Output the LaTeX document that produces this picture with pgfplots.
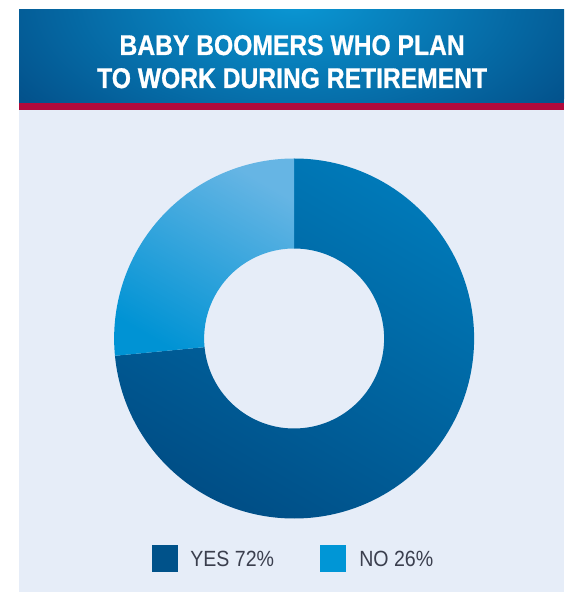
\documentclass[border=0pt]{standalone}
\usepackage{pgfplots}
\pgfplotsset{compat=1.18}
\usepackage{pgfplotstable}
\usepackage{fontspec}
\setmainfont{Liberation Sans}
\newfontfamily\condfont{Liberation Sans}[FakeStretch=0.89]
\newfontfamily\titlefont{Liberation Sans Bold}[FakeStretch=0.865, FakeBold=0.8]
\definecolor{bgpanel}{HTML}{E6EDF8}
\definecolor{redband}{HTML}{B10A3C}
\definecolor{headdark}{HTML}{03528C}
\definecolor{headlight}{HTML}{0A97D4}
\definecolor{yescol}{HTML}{00528A}
\definecolor{yestop}{HTML}{0079B8}
\definecolor{yesbot}{HTML}{004E86}
\definecolor{nocol}{HTML}{0096D6}
\definecolor{notop}{HTML}{66B5E4}
\definecolor{nobot}{HTML}{0093D4}
\definecolor{legtext}{HTML}{3B3F4E}

\pgfplotstableread{
label value
YES 72
NO 26
}\datatable

\begin{document}
\pgfplotstablegetelem{0}{value}\of\datatable
\pgfmathsetmacro{\yesv}{\pgfplotsretval}
\pgfplotstablegetelem{1}{value}\of\datatable
\pgfmathsetmacro{\nov}{\pgfplotsretval}
\pgfmathsetmacro{\noend}{90+360*\nov/(\yesv+\nov)}
\pgfmathsetmacro{\yesend}{\noend-360}
\begin{tikzpicture}[x=1pt,y=1pt]
\useasboundingbox (0,0) rectangle (553,592);
\fill[white] (0,0) rectangle (553,592);
\fill[bgpanel] (8,0) rectangle (553,482);
\fill[redband] (8,482) rectangle (553,489);
\begin{scope}
\clip (8,489) rectangle (553,582);
\fill[headdark] (8,489) rectangle (553,582);
\shade[inner color=headlight, outer color=headdark] (283,590) ellipse (330 and 170);
\end{scope}
\node[white, anchor=base, inner sep=0pt, font=\titlefont\fontsize{28.5}{32}\selectfont] at (281,537) {BABY BOOMERS WHO PLAN};
\node[white, anchor=base, inner sep=0pt, font=\titlefont\fontsize{28.5}{32}\selectfont] at (281,504) {TO WORK DURING RETIREMENT};

\begin{axis}[x=1pt, y=1pt, xmin=-185, xmax=185, ymin=-185, ymax=185,
  hide axis, clip=false, anchor=origin, at={(283,253.5)}]
\shade[top color=yestop, bottom color=yesbot, shading angle=-30]
  (axis cs:0,180) arc[start angle=90, end angle=\yesend, radius=180pt]
  -- (axis cs:{90*cos(\yesend)},{90*sin(\yesend)})
  arc[start angle=\yesend, end angle=90, radius=90pt] -- cycle;
\shade[top color=notop, bottom color=nobot, shading angle=-30]
  (axis cs:0,180) arc[start angle=90, end angle=\noend, radius=180pt]
  -- (axis cs:{90*cos(\noend)},{90*sin(\noend)})
  arc[start angle=\noend, end angle=90, radius=90pt] -- cycle;
\end{axis}

\fill[yescol] (141,20) rectangle (167,47);
\fill[nocol] (309,20) rectangle (335,47);
\node[legtext, anchor=base west, inner sep=0pt, font=\condfont\fontsize{22}{26}\selectfont] at (179,25) {YES 72\%};
\node[legtext, anchor=base west, inner sep=0pt, font=\condfont\fontsize{22}{26}\selectfont] at (348,25) {NO 26\%};
\end{tikzpicture}
\end{document}
